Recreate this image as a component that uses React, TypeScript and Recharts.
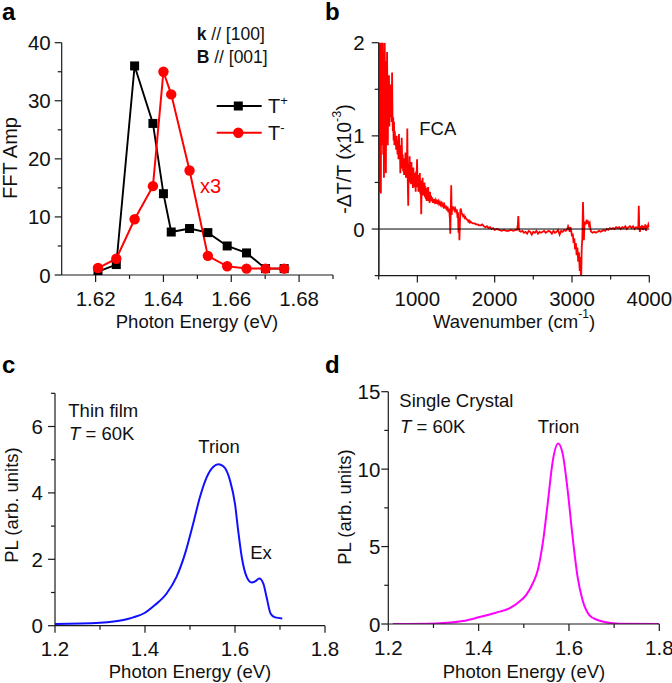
import React from "react";
import { LineChart, Line, XAxis, YAxis, ReferenceLine } from "recharts";

const FONT = "Arial, 'Liberation Sans', Helvetica, sans-serif";
const INK = "#1a1a1a";
const TICK_FONT = 20.5;

// a: FFT amplitude of the two trion branches
const fftEnergy = [1.6207, 1.6261, 1.6315, 1.6369, 1.64, 1.6423, 1.6477, 1.6531, 1.6588, 1.6645, 1.6701, 1.6756];
const fftTPlus = [0.6, 1.8, 36.0, 26.1, 14.0, 7.4, 8.0, 7.3, 5.0, 3.8, 1.1, 1.1];
const fftTMinus = [1.2, 2.8, 9.6, 15.3, 35.0, 31.1, 18.0, 3.3, 1.5, 1.1, 1.1, 1.1];
const aXTicks = [1.62, 1.63, 1.64, 1.65, 1.66, 1.67, 1.68, 1.69];
const aXLabels = [1.62, 1.64, 1.66, 1.68];
const aYTicks = [0, 5, 10, 15, 20, 25, 30, 35, 40];
const aYLabels = [0, 10, 20, 30, 40];

// b: free carrier absorption spectrum, [wavenumber, -dT/T x1e-3]
const fcaSpectrum: [number, number][] = [
  [500, -0.7], [504, 2.3], [508, 0.4], [513, 2.2], [518, 1.2], [523, 2.1], [528, 0.38], [533, 1.9], [538, 0.9],
  [543, 2.1], [548, 1.3], [553, 2.0], [558, 0.8], [563, 1.7], [568, 0.55], [573, 1.5], [578, 2.0], [583, 1.1],
  [588, 1.8], [593, 0.6], [598, 1.6], [603, 1.2], [608, 1.9], [613, 1.4], [618, 0.9], [623, 1.5], [628, 1.3],
  [633, 1.65], [638, 1.1], [643, 1.45], [648, 1.25], [653, 1.55], [658, 1.2], [663, 1.35], [668, 1.15],
  [673, 1.68], [678, 1.25], [683, 1.05], [688, 1.2], [693, 0.95], [698, 1.15], [703, 0.9], [708, 1.05],
  [714, 0.95], [720, 1.0], [726, 0.85], [732, 1.0], [738, 0.9], [744, 0.8], [750, 0.95], [756, 0.75],
  [762, 1.02], [768, 0.8], [774, 0.9], [780, 0.6], [786, 0.85], [792, 0.7], [798, 0.98], [804, 0.65],
  [810, 0.8], [816, 0.62], [822, 0.76], [828, 0.58], [834, 0.72], [840, 0.6], [846, 0.82], [852, 0.55],
  [858, 0.78], [864, 0.6], [870, 1.08], [876, 0.5], [882, 0.25], [888, 0.7], [894, 0.55], [900, 0.78],
  [906, 0.5], [912, 0.68], [918, 0.48], [924, 0.72], [930, 0.5], [936, 0.62], [942, 0.44], [948, 0.66],
  [954, 0.5], [960, 0.6], [966, 0.45], [972, 0.58], [978, 0.4], [984, 0.62], [990, 0.52], [996, 0.75],
  [1002, 0.45], [1008, 0.58], [1014, 0.4], [1020, 0.55], [1026, 0.42], [1032, 0.6], [1038, 0.38],
  [1044, 0.52], [1050, 0.16], [1056, 0.5], [1062, 0.4], [1068, 0.55], [1074, 0.36], [1080, 0.48],
  [1086, 0.38], [1092, 0.5], [1098, 0.34], [1104, 0.46], [1110, 0.32], [1116, 0.44], [1122, 0.3],
  [1128, 0.4], [1134, 0.33], [1140, 0.45], [1146, 0.3], [1152, 0.38], [1158, 0.28], [1164, 0.4],
  [1170, 0.3], [1176, 0.36], [1184, 0.3], [1192, 0.34], [1200, 0.28], [1210, 0.32], [1220, 0.29],
  [1230, 0.31], [1240, 0.27], [1250, 0.3], [1260, 0.28], [1270, 0.3], [1280, 0.27], [1290, 0.29],
  [1300, 0.26], [1310, 0.28], [1320, 0.25], [1330, 0.27], [1340, 0.24], [1350, 0.26], [1360, 0.22],
  [1370, 0.25], [1380, 0.2], [1390, 0.24], [1400, 0.18], [1410, 0.22], [1420, 0.12], [1426, -0.05],
  [1432, 0.2], [1438, 0.47], [1444, 0.15], [1450, 0.24], [1460, 0.22], [1470, 0.23], [1480, 0.2],
  [1490, 0.22], [1500, 0.19], [1510, 0.21], [1520, 0.12], [1526, 0.18], [1532, -0.04], [1538, 0.12],
  [1544, -0.12], [1550, 0.05], [1556, 0.2], [1562, 0.22], [1570, 0.18], [1580, 0.16], [1590, 0.14],
  [1600, 0.15], [1610, 0.12], [1620, 0.13], [1630, 0.11], [1640, 0.1], [1650, 0.1], [1660, 0.08],
  [1670, 0.09], [1680, 0.07], [1690, 0.08], [1700, 0.07], [1720, 0.06], [1740, 0.06], [1760, 0.05],
  [1780, 0.05], [1800, 0.04], [1820, 0.04], [1840, 0.05], [1860, 0.03], [1880, 0.02], [1900, 0.03],
  [1920, 0.01], [1940, 0.02], [1960, 0.0], [1980, 0.01], [2000, -0.01], [2030, 0.0], [2060, -0.01],
  [2090, -0.02], [2120, -0.01], [2150, -0.02], [2180, -0.02], [2210, -0.01], [2240, -0.02], [2270, -0.01],
  [2290, -0.01], [2300, 0.05], [2306, 0.14], [2312, 0.02], [2320, -0.02], [2340, -0.03], [2360, -0.02],
  [2380, -0.04], [2400, -0.03], [2420, -0.05], [2440, -0.02], [2460, -0.03], [2480, -0.06], [2500, -0.03],
  [2520, -0.04], [2540, -0.02], [2560, -0.05], [2580, -0.03], [2600, -0.04], [2620, -0.03], [2640, -0.02],
  [2660, -0.04], [2680, -0.03], [2700, -0.02], [2720, -0.03], [2740, -0.05], [2760, -0.02], [2780, -0.04],
  [2800, -0.03], [2820, -0.01], [2840, -0.06], [2860, -0.02], [2880, -0.03], [2900, -0.01], [2920, -0.02],
  [2940, 0.0], [2950, 0.03], [2960, 0.01], [2970, -0.03], [2980, 0.02], [2990, -0.02], [3000, -0.08],
  [3010, -0.05], [3020, -0.15], [3030, -0.1], [3040, -0.22], [3050, -0.15], [3060, -0.28], [3070, -0.2],
  [3080, -0.35], [3090, -0.25], [3100, -0.45], [3110, -0.3], [3118, -0.58], [3126, -0.2], [3134, -0.1],
  [3142, 0.29], [3148, 0.1], [3154, -0.12], [3160, 0.02], [3170, 0.08], [3180, 0.05], [3190, 0.1],
  [3200, 0.06], [3210, 0.09], [3220, 0.04], [3230, 0.06], [3240, -0.01], [3250, -0.03], [3270, -0.04],
  [3290, -0.03], [3310, -0.04], [3330, -0.03], [3350, -0.02], [3370, -0.03], [3390, -0.02], [3410, -0.01],
  [3430, -0.02], [3450, 0.0], [3470, -0.01], [3490, 0.01], [3510, 0.0], [3530, 0.01], [3550, 0.0],
  [3570, 0.02], [3590, 0.01], [3610, 0.02], [3630, 0.0], [3650, 0.02], [3670, 0.01], [3690, 0.03],
  [3710, 0.0], [3730, 0.02], [3750, 0.03], [3770, 0.01], [3790, 0.03], [3810, 0.0], [3830, 0.02],
  [3850, 0.01], [3858, 0.03], [3864, 0.25], [3870, 0.02], [3878, -0.03], [3888, 0.03], [3898, 0.0],
  [3908, 0.04], [3918, -0.01], [3928, 0.03], [3938, 0.0], [3948, 0.05], [3958, -0.02], [3968, 0.04],
  [3978, 0.01], [3988, 0.05], [4000, 0.02],
];
const bXTicks = [500, 1000, 1500, 2000, 2500, 3000, 3500, 4000];
const bXLabels = [1000, 2000, 3000, 4000];
const bYTicks = [-0.5, 0, 0.5, 1, 1.5, 2];
const bYLabels = [0, 1, 2];

// c: thin film PL at 60K
const filmEnergy = [1.2, 1.3, 1.352, 1.374, 1.4, 1.422, 1.448, 1.47, 1.489, 1.507, 1.522, 1.537, 1.552, 1.563,
  1.574, 1.589, 1.6, 1.607, 1.615, 1.626, 1.637, 1.644, 1.654, 1.663, 1.67, 1.679, 1.689, 1.705];
const filmPL = [0.05, 0.09, 0.17, 0.25, 0.39, 0.62, 0.97, 1.47, 2.17, 3.07, 3.87, 4.47, 4.79, 4.86,
  4.8, 4.37, 3.67, 2.87, 2.07, 1.47, 1.3, 1.33, 1.42, 1.27, 0.87, 0.37, 0.25, 0.22];
const cXTicks = [1.2, 1.3, 1.4, 1.5, 1.6, 1.7, 1.8];
const cXLabels = [1.2, 1.4, 1.6, 1.8];
const cYTicks = [0, 1, 2, 3, 4, 5, 6, 7];
const cYLabels = [0, 2, 4, 6];

// d: single crystal PL at 60K
const crystalEnergy = [1.21, 1.305, 1.365, 1.4, 1.438, 1.468, 1.49, 1.505, 1.52, 1.531, 1.542, 1.553, 1.564,
  1.576, 1.586, 1.597, 1.608, 1.619, 1.63, 1.645, 1.663, 1.682, 1.711, 1.8];
const crystalPL = [0, 0.04, 0.19, 0.43, 0.73, 1.01, 1.44, 1.87, 2.63, 3.49, 5.22, 7.8, 10.5,
  11.65, 11.0, 8.66, 5.65, 3.06, 1.55, 0.58, 0.26, 0.11, 0.02, 0];
const dYTicks = [0, 2.5, 5, 7.5, 10, 12.5, 15];
const dYLabels = [0, 5, 10, 15];

const fftRows = fftEnergy.map((x, i) => ({ x, tp: fftTPlus[i], tm: fftTMinus[i] }));
const fcaRows = fcaSpectrum.map(([x, v]) => ({ x, v }));
const filmRows = filmEnergy.map((x, i) => ({ x, v: filmPL[i] }));
const crystalRows = crystalEnergy.map((x, i) => ({ x, v: crystalPL[i] }));

type TickOpts = { side: "left" | "bottom"; labels: number[]; digits: number; gap: number };

function makeTick(o: TickOpts) {
  return (props: any) => {
    const { x, y, payload } = props;
    const v = payload.value as number;
    const major = o.labels.some((l) => Math.abs(l - v) < 1e-9);
    const len = major ? 7 : 4;
    if (o.side === "left") {
      return (
        <g>
          <line x1={x} x2={x - len} y1={y} y2={y} stroke={INK} strokeWidth={1.2} />
          {major && (
            <text x={x - o.gap} y={y} textAnchor="end" dominantBaseline="central"
              fontSize={TICK_FONT} fontFamily={FONT} fill="#111">
              {v.toFixed(o.digits)}
            </text>
          )}
        </g>
      );
    }
    return (
      <g>
        <line x1={x} x2={x} y1={y} y2={y + len} stroke={INK} strokeWidth={1.2} />
        {major && (
          <text x={x} y={y + 23} textAnchor="middle" dominantBaseline="central"
            fontSize={TICK_FONT} fontFamily={FONT} fill="#111">
            {v.toFixed(o.digits)}
          </text>
        )}
      </g>
    );
  };
}

const axisLine = { stroke: INK, strokeWidth: 1.2 };

function Square(p: any) {
  if (p.cx == null) return <g key={`s${p.index}`} />;
  return <rect key={`s${p.index}`} x={p.cx - 4.5} y={p.cy - 4.5} width={9} height={9} fill="#000" />;
}

function Circle(p: any) {
  if (p.cx == null) return <g key={`c${p.index}`} />;
  return <circle key={`c${p.index}`} cx={p.cx} cy={p.cy} r={5.2} fill="#ff0000" />;
}

const box = (left: number, top: number): React.CSSProperties => ({ position: "absolute", left, top });

export default function App() {
  const t = { fontFamily: FONT, fontSize: 18.5, fill: "#111" };
  return (
    <div style={{ position: "absolute", left: 0, top: 0, width: 672, height: 683, background: "#fff" }}>
      <div style={box(0, 0)}>
        <LineChart width={345} height={330} data={fftRows} margin={{ top: 42.7, right: 12, bottom: 0, left: 0 }}>
          <XAxis type="number" dataKey="x" domain={[1.61, 1.69]} ticks={aXTicks} interval={0} height={55}
            allowDataOverflow axisLine={axisLine} tickLine={false} tickSize={0} tickMargin={0}
            tick={makeTick({ side: "bottom", labels: aXLabels, digits: 2, gap: 0 })} />
          <YAxis type="number" domain={[0, 40]} ticks={aYTicks} interval={0} width={61.7}
            allowDataOverflow axisLine={axisLine} tickLine={false} tickSize={0} tickMargin={0}
            tick={makeTick({ side: "left", labels: aYLabels, digits: 0, gap: 11 })} />
          <Line dataKey="tp" stroke="#000" strokeWidth={1.9} dot={Square} activeDot={false} isAnimationActive={false} />
          <Line dataKey="tm" stroke="#ff0000" strokeWidth={2} dot={Circle} activeDot={false} isAnimationActive={false} />
        </LineChart>
      </div>

      <div style={box(336, 0)}>
        <LineChart width={336} height={330} data={fcaRows} margin={{ top: 42.7, right: 22.7, bottom: 0, left: 0 }}>
          <XAxis type="number" dataKey="x" domain={[500, 4000]} ticks={bXTicks} interval={0} height={54.4}
            allowDataOverflow axisLine={axisLine} tickLine={false} tickSize={0} tickMargin={0}
            tick={makeTick({ side: "bottom", labels: bXLabels, digits: 0, gap: 0 })} />
          <YAxis type="number" domain={[-0.5, 2]} ticks={bYTicks} interval={0} width={42.7}
            allowDataOverflow axisLine={axisLine} tickLine={false} tickSize={0} tickMargin={0}
            tick={makeTick({ side: "left", labels: bYLabels, digits: 0, gap: 14 })} />
          <Line dataKey="v" stroke="#ff0000" strokeWidth={1.8} dot={false} activeDot={false} isAnimationActive={false} />
          <ReferenceLine y={0} stroke="#000" strokeWidth={1} />
        </LineChart>
      </div>

      <div style={box(0, 330)}>
        <LineChart width={352} height={353} data={filmRows} margin={{ top: 63.3, right: 27, bottom: 0, left: 0 }}>
          <XAxis type="number" dataKey="x" domain={[1.2, 1.8]} ticks={cXTicks} interval={0} height={57.3}
            allowDataOverflow axisLine={axisLine} tickLine={false} tickSize={0} tickMargin={0}
            tick={makeTick({ side: "bottom", labels: cXLabels, digits: 1, gap: 0 })} />
          <YAxis type="number" domain={[0, 7]} ticks={cYTicks} interval={0} width={55}
            allowDataOverflow axisLine={axisLine} tickLine={false} tickSize={0} tickMargin={0}
            tick={makeTick({ side: "left", labels: cYLabels, digits: 0, gap: 12 })} />
          <Line type="monotone" dataKey="v" stroke="#1010ff" strokeWidth={2} dot={false} activeDot={false} isAnimationActive={false} />
        </LineChart>
      </div>

      <div style={box(336, 330)}>
        <LineChart width={336} height={353} data={crystalRows} margin={{ top: 61.7, right: 12.7, bottom: 0, left: 0 }}>
          <XAxis type="number" dataKey="x" domain={[1.2, 1.8]} ticks={cXTicks} interval={0} height={59}
            allowDataOverflow axisLine={axisLine} tickLine={false} tickSize={0} tickMargin={0}
            tick={makeTick({ side: "bottom", labels: cXLabels, digits: 1, gap: 0 })} />
          <YAxis type="number" domain={[0, 15]} ticks={dYTicks} interval={0} width={52.3}
            allowDataOverflow axisLine={axisLine} tickLine={false} tickSize={0} tickMargin={0}
            tick={makeTick({ side: "left", labels: dYLabels, digits: 0, gap: 8 })} />
          <Line type="monotone" dataKey="v" stroke="#ff00ff" strokeWidth={2} dot={false} activeDot={false} isAnimationActive={false} />
        </LineChart>
      </div>

      <svg width={672} height={683} style={{ position: "absolute", left: 0, top: 0, pointerEvents: "none" }}>
        {/* panel letters */}
        <g fontFamily={FONT} fontSize={24} fontWeight="bold" fill="#000">
          <text x={2} y={20}>a</text>
          <text x={325} y={20}>b</text>
          <text x={2} y={373}>c</text>
          <text x={325} y={373}>d</text>
        </g>

        {/* a */}
        <text {...t} fontSize={17.5} x={196.7} y={39.5}><tspan fontWeight="bold">k</tspan> // [100]</text>
        <text {...t} fontSize={17.5} x={196.7} y={62.7}><tspan fontWeight="bold">B</tspan> // [001]</text>
        <line x1={216.7} x2={261.7} y1={106} y2={106} stroke="#000" strokeWidth={1.9} />
        <rect x={233.8} y={101.5} width={9} height={9} fill="#000" />
        <text {...t} fontSize={20} x={268} y={113}>T<tspan dy={-8} fontSize={13}>+</tspan></text>
        <line x1={216.7} x2={261.7} y1={132.7} y2={132.7} stroke="#ff0000" strokeWidth={2} />
        <circle cx={238.3} cy={132.7} r={5.2} fill="#ff0000" />
        <text {...t} fontSize={20} x={268} y={140}>T<tspan dy={-8} fontSize={13}>-</tspan></text>
        <text {...t} fontSize={20} x={200} y={193} fill="#ff0000">x3</text>
        <text {...t} x={197} y={321} textAnchor="middle" dominantBaseline="central">Photon Energy (eV)</text>
        <text {...t} fontSize={20} transform="translate(10,158) rotate(-90)" textAnchor="middle" dominantBaseline="central">FFT Amp</text>

        {/* b */}
        <text {...t} x={419.3} y={135}>FCA</text>
        <text {...t} x={514} y={321} textAnchor="middle" dominantBaseline="central">
          Wavenumber (cm<tspan dy={-7} fontSize={12}>-1</tspan><tspan dy={7}>)</tspan>
        </text>
        <text {...t} fontSize={19.5} transform="translate(344,159) rotate(-90)" textAnchor="middle" dominantBaseline="central">
          -ΔT/T (x10<tspan dy={-7} fontSize={12.5}>-3</tspan><tspan dy={7}>)</tspan>
        </text>

        {/* c */}
        <text {...t} x={68.3} y={417}>Thin film</text>
        <text {...t} x={69} y={440}><tspan fontStyle="italic">T</tspan> = 60K</text>
        <text {...t} x={219} y={453} textAnchor="middle">Trion</text>
        <text {...t} x={261} y={559} textAnchor="middle">Ex</text>
        <text {...t} x={190} y={671} textAnchor="middle" dominantBaseline="central">Photon Energy (eV)</text>
        <text {...t} transform="translate(11,505) rotate(-90)" textAnchor="middle" dominantBaseline="central">PL (arb. units)</text>

        {/* d */}
        <text {...t} x={399.3} y={406.7}>Single Crystal</text>
        <text {...t} x={400} y={433}><tspan fontStyle="italic">T</tspan> = 60K</text>
        <text {...t} x={558.5} y={433} textAnchor="middle">Trion</text>
        <text {...t} x={524} y={671} textAnchor="middle" dominantBaseline="central">Photon Energy (eV)</text>
        <text {...t} transform="translate(344,507) rotate(-90)" textAnchor="middle" dominantBaseline="central">PL (arb. units)</text>
      </svg>
    </div>
  );
}
